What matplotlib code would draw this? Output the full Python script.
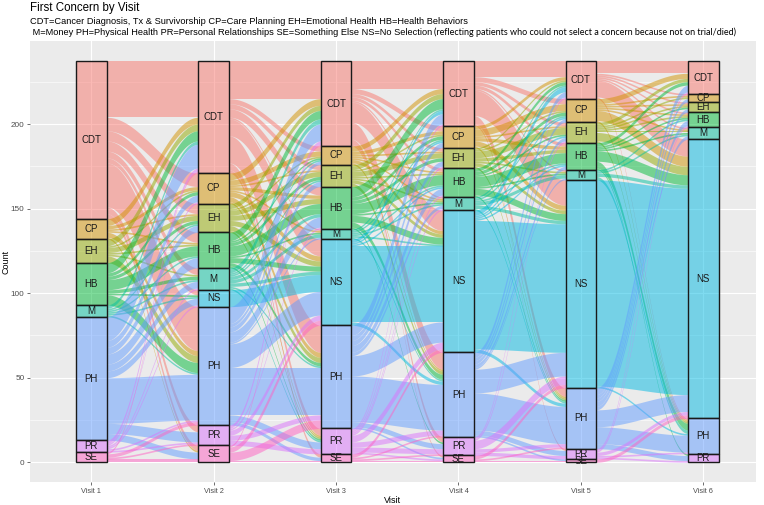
import numpy as np
import matplotlib
matplotlib.use('Agg')
from matplotlib import pyplot as plt
from matplotlib.patches import Rectangle
from matplotlib.colors import to_rgba

plt.rcParams['font.family'] = ['Liberation Sans', 'DejaVu Sans']

visits = ['Visit 1', 'Visit 2', 'Visit 3', 'Visit 4', 'Visit 5', 'Visit 6']
concerns = ['CDT', 'CP', 'EH', 'HB', 'M', 'NS', 'PH', 'PR', 'SE']
colors = ['#F8766D', '#D39200', '#93AA00', '#00BA38', '#00C19F',
          '#00B9E3', '#619CFF', '#DB72FB', '#FF61C3']

# patients going from a concern at one visit (rows) to a concern at the next (cols)
# order of rows / cols: CDT, CP, EH, HB, M, NS, PH, PR, SE
v1_to_v2 = [
    [33, 8, 6, 6, 4, 3, 26, 4, 3],
    [4, 2, 1, 1, 0, 0, 3, 0, 1],
    [4, 1, 3, 1, 1, 0, 4, 0, 0],
    [6, 2, 2, 6, 2, 1, 6, 0, 0],
    [2, 0, 1, 1, 1, 1, 1, 0, 0],
    [0, 0, 0, 0, 0, 0, 0, 0, 0],
    [14, 4, 4, 6, 4, 4, 27, 6, 4],
    [2, 1, 0, 0, 1, 1, 1, 1, 0],
    [1, 0, 0, 0, 0, 0, 2, 1, 2],
]
v2_to_v3 = [
    [22, 3, 3, 5, 1, 10, 16, 4, 2],
    [4, 3, 1, 2, 1, 3, 3, 1, 0],
    [3, 1, 3, 3, 0, 3, 3, 1, 0],
    [5, 1, 2, 6, 1, 3, 2, 1, 0],
    [3, 1, 1, 2, 2, 2, 1, 1, 0],
    [0, 0, 0, 0, 0, 10, 0, 0, 0],
    [10, 2, 3, 6, 1, 14, 28, 4, 2],
    [2, 0, 0, 1, 0, 3, 3, 3, 0],
    [1, 0, 0, 0, 0, 3, 5, 0, 1],
]
v3_to_v4 = [
    [16, 3, 2, 2, 1, 12, 10, 3, 1],
    [3, 2, 1, 1, 1, 2, 1, 0, 0],
    [3, 1, 3, 1, 1, 2, 2, 0, 0],
    [6, 2, 2, 6, 1, 4, 3, 1, 0],
    [1, 1, 0, 1, 1, 1, 1, 0, 0],
    [2, 1, 0, 1, 0, 45, 2, 0, 0],
    [6, 3, 3, 4, 2, 12, 27, 3, 1],
    [1, 0, 1, 1, 1, 4, 3, 3, 1],
    [0, 0, 0, 0, 0, 2, 1, 1, 1],
]
v4_to_v5 = [
    [9, 3, 2, 2, 1, 15, 5, 1, 0],
    [2, 4, 1, 2, 0, 3, 1, 0, 0],
    [1, 1, 4, 2, 1, 2, 1, 0, 0],
    [2, 2, 1, 6, 1, 4, 1, 0, 0],
    [1, 1, 0, 1, 2, 2, 1, 0, 0],
    [3, 1, 1, 1, 0, 76, 2, 0, 0],
    [3, 2, 2, 2, 1, 14, 22, 3, 1],
    [1, 0, 1, 0, 0, 5, 2, 2, 0],
    [0, 0, 0, 0, 0, 2, 1, 0, 1],
]
v5_to_v6 = [
    [7, 1, 1, 1, 1, 10, 1, 0, 0],
    [3, 1, 1, 1, 1, 6, 1, 0, 0],
    [2, 1, 1, 1, 1, 5, 1, 0, 0],
    [2, 0, 1, 1, 1, 6, 4, 1, 0],
    [0, 0, 0, 1, 1, 2, 2, 0, 0],
    [0, 0, 0, 0, 0, 122, 1, 0, 0],
    [4, 2, 2, 3, 2, 10, 10, 3, 0],
    [1, 0, 0, 1, 0, 2, 1, 1, 0],
    [0, 0, 0, 0, 0, 2, 0, 0, 0],
]
transitions = [np.array(t) for t in [v1_to_v2, v2_to_v3, v3_to_v4, v4_to_v5, v5_to_v6]]

counts = [t.sum(axis=1) for t in transitions] + [transitions[-1].sum(axis=0)]
total = counts[0].sum()


def tops(c):
    return total - np.concatenate([[0], np.cumsum(c)[:-1]])


W = 764
H = 505
fig = plt.figure(figsize=(W / 100, H / 100), dpi=100)
ax = fig.add_axes([30 / W, (H - 482.3) / H, (756 - 30) / W, (482.3 - 41.4) / H])
ax.set_facecolor('#EBEBEB')

w = 0.25
t = np.linspace(0, 1, 80)
f = (1 - np.cos(np.pi * t)) / 2

for k, T in enumerate(transitions):
    x0 = k + 1 + w / 2
    x1 = k + 2 - w / 2
    xs = x0 + (x1 - x0) * t
    out_pos = tops(T.sum(axis=1)).astype(float)
    in_pos = tops(T.sum(axis=0)).astype(float)
    for s in range(len(concerns)):
        for d in range(len(concerns)):
            n = T[s, d]
            if n == 0:
                continue
            ya = out_pos[s]
            yb = in_pos[d]
            top = ya + (yb - ya) * f
            ax.fill_between(xs, top - n, top, color=colors[s], alpha=0.5,
                            lw=0, zorder=2)
            out_pos[s] -= n
            in_pos[d] -= n

for k, c in enumerate(counts):
    tp = tops(c)
    for s in range(len(concerns)):
        if c[s] == 0:
            continue
        ax.add_patch(Rectangle((k + 1 - w / 2, tp[s] - c[s]), w, c[s],
                               facecolor=to_rgba(colors[s], 0.5),
                               edgecolor='#1A1A1A', lw=1.0, zorder=3))
        ax.text(k + 1, tp[s] - c[s] / 2, concerns[s], ha='center', va='center',
                fontsize=7.0, color='#1A1A1A', zorder=4)

ax.set_xlim(0.5, 6.43)
ax.set_ylim(-11.85, 248.85)
ax.set_xticks(range(1, 7))
ax.set_xticklabels(visits)
ax.set_yticks([0, 50, 100, 150, 200])
ax.set_yticks([25, 75, 125, 175, 225], minor=True)
ax.grid(True, which='major', color='white', lw=0.8, zorder=0)
ax.grid(True, which='minor', axis='y', color='white', lw=0.4, zorder=0)
ax.set_axisbelow(True)
for sp in ax.spines.values():
    sp.set_visible(False)
ax.tick_params(axis='both', which='major', length=2, width=0.5, color='#333333',
               labelsize=5.3, labelcolor='#4D4D4D', pad=2)
ax.tick_params(axis='y', which='major', labelsize=5.9)
ax.tick_params(axis='both', which='minor', length=0)
ax.set_xlabel('Visit', fontsize=6.5, labelpad=1)
ax.set_ylabel('Count', fontsize=6.5, va='center')
ax.yaxis.set_label_coords(-0.033, 0.5)

fig.text(30 / W, 1 - 10.5 / H, 'First Concern by Visit', fontsize=8.3, va='baseline')
fig.text(30 / W, 1 - 23.5 / H,
         'CDT=Cancer Diagnosis, Tx & Survivorship CP=Care Planning EH=Emotional Health HB=Health Behaviors',
         fontsize=6.7, va='baseline')
part = fig.text(30 / W, 1 - 34.5 / H,
                ' M=Money PH=Physical Health PR=Personal Relationships SE=Something Else NS=No Selection',
                fontsize=6.7, va='baseline')
fig.canvas.draw()
bb = part.get_window_extent()
fig.text((bb.x1 + 2) / W, 1 - 34.5 / H,
         '(reflecting patients who could not select a concern because not on trial/died)',
         fontsize=6.5, va='baseline', family=['Lato', 'DejaVu Sans'])

fig.savefig('out.png', dpi=100)
